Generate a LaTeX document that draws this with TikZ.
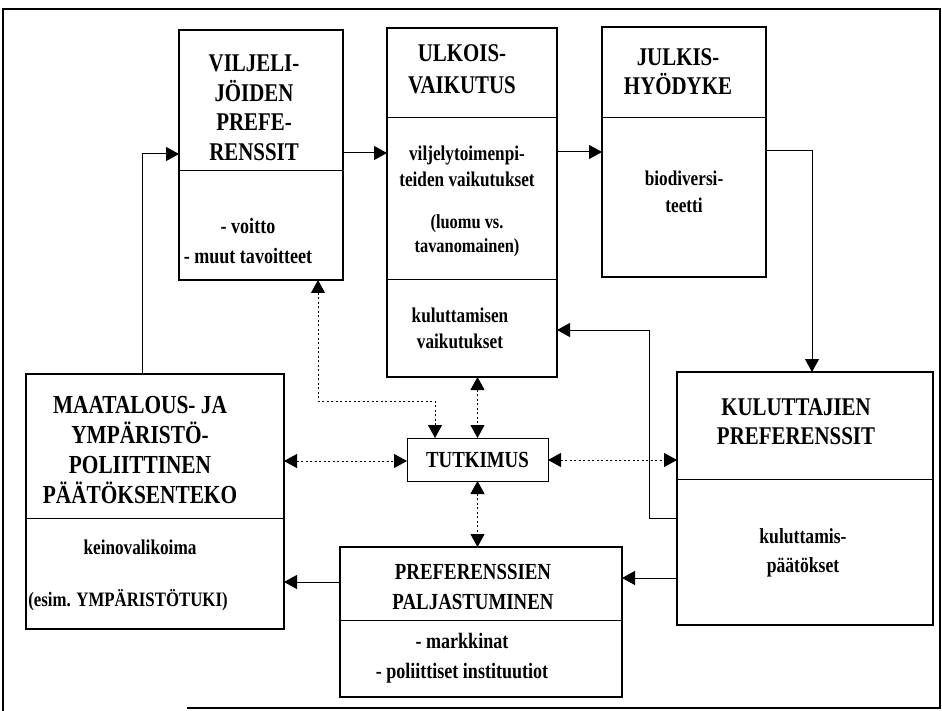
\documentclass[tikz,border=0pt]{standalone}
\usepackage{fontspec}
\setmainfont{Liberation Serif}[FakeStretch=0.82]
\usetikzlibrary{arrows.meta}
\begin{document}
\begin{tikzpicture}[x=1pt,y=-1pt,
 box/.style={draw,line width=1.8pt,rectangle,anchor=north west,inner sep=0,outer sep=0},
 div/.style={line width=0.9pt},
 tip/.tip={Triangle[length=13pt,width=14pt]},
 conn/.style={line width=1pt,-tip},
 dconn/.style={line width=1pt,dash pattern=on 2pt off 2.5pt,tip-tip},
 frame/.style={line width=1.3pt},
 head/.style={font=\fontsize{25.5}{30}\selectfont\bfseries,align=center,inner sep=0},
 body/.style={font=\fontsize{21}{25}\selectfont\bfseries,align=center,inner sep=0},
]
\useasboundingbox (0,0) rectangle (942,711);
% frame
\draw[frame] (3,711) -- (3,9) -- (940,9) -- (940,708) -- (187,708);

% boxes
\node[box, minimum width=164, minimum height=250] (b1) at (179,30) {};
\node[box, minimum width=170, minimum height=349] (b2) at (387,28) {};
\node[box, minimum width=164, minimum height=250] (b3) at (602,27) {};
\node[box, minimum width=258, minimum height=255] (b4) at (26,374) {};
\node[box, minimum width=256, minimum height=253] (b5) at (677,372) {};
\node[box, minimum width=282, minimum height=150] (b6) at (340,547) {};
\node[draw, line width=1pt, rectangle, inner sep=0, outer sep=0, minimum width=141, minimum height=43,
      font=\fontsize{23}{25}\selectfont\bfseries] (tut) at (477.5,459.5) {TUTKIMUS};

% dividers
\draw[div] (b1.west |- 0,170) -- (b1.east |- 0,170);
\draw[div] (b2.west |- 0,117) -- (b2.east |- 0,117);
\draw[div] (b2.west |- 0,279) -- (b2.east |- 0,279);
\draw[div] (b3.west |- 0,117) -- (b3.east |- 0,117);
\draw[div] (b4.west |- 0,518) -- (b4.east |- 0,518);
\draw[div] (b5.west |- 0,479) -- (b5.east |- 0,479);
\draw[div] (b6.west |- 0,620) -- (b6.east |- 0,620);

% texts
\node[head, font=\fontsize{25.5}{29.5}\selectfont\bfseries] (t1h) at (254,108) {VILJELI-\\JÖIDEN\\PREFE-\\RENSSIT};
\node[body, font=\fontsize{22}{30}\selectfont\bfseries] (t1b) at (248,241) {- voitto\\- muut tavoitteet};
\node[head, font=\fontsize{25.5}{32}\selectfont\bfseries] (t2h) at (462,69) {ULKOIS-\\VAIKUTUS};
\node[body, font=\fontsize{21}{26}\selectfont\bfseries] (t2b1) at (467,166) {viljelytoimenpi-\\teiden vaikutukset};
\node[body, font=\fontsize{20}{24}\selectfont\bfseries] (t2b2) at (467,236) {(luomu vs.\\tavanomainen)};
\node[body, font=\fontsize{21}{26}\selectfont\bfseries] (t2b3) at (460,328) {kuluttamisen\\vaikutukset};
\node[head, font=\fontsize{25.5}{29}\selectfont\bfseries] (t3h) at (678,72) {JULKIS-\\HYÖDYKE};
\node[body, font=\fontsize{21}{27}\selectfont\bfseries] (t3b) at (684,192) {biodiversi-\\teetti};
\node[head, font=\fontsize{26}{30}\selectfont\bfseries] (t4h) at (140,450) {MAATALOUS- JA\\YMPÄRISTÖ-\\POLIITTINEN\\PÄÄTÖKSENTEKO};
\node[body] (t4b1) at (140,547) {keinovalikoima};
\node[body, font=\fontsize{20.5}{25}\selectfont\bfseries] (t4b2) at (128,600) {(esim. YMPÄRISTÖTUKI)};
\node[head, font=\fontsize{25.5}{29}\selectfont\bfseries] (t5h) at (796,422) {KULUTTAJIEN\\PREFERENSSIT};
\node[body, font=\fontsize{21.5}{29}\selectfont\bfseries] (t5b) at (803,553) {kuluttamis-\\päätökset};
\node[head, font=\fontsize{23}{30}\selectfont\bfseries] (t6h) at (473,587) {PREFERENSSIEN\\PALJASTUMINEN};
\node[body, font=\fontsize{22}{30}\selectfont\bfseries] (t6b) at (462,658) {- markkinat\\- poliittiset instituutiot};

% solid connectors
\draw[conn] (b4.north -| 142,0) |- (b1.west |- 0,154);
\draw[conn] (b1.east |- 0,153) -- (b2.west |- 0,153);
\draw[conn] (b2.east |- 0,152) -- (b3.west |- 0,152);
\draw[conn] (b3.east |- 0,151) -| (b5.north -| 812,0);
\draw[conn] (b5.west |- 0,518) -- (649,518) |- (b2.east |- 0,330);
\draw[conn] (b5.west |- 0,578) -- (b6.east |- 0,578);
\draw[conn] (b6.west |- 0,582) -- (b4.east |- 0,582);

% dotted connectors
\draw[dconn] (b1.south -| 318,0) |- (435,401) -- (tut.north -| 435,0);
\draw[dconn] (b2.south -| tut.north) -- (tut.north);
\draw[dconn] (b4.east |- 0,461) -- (tut.west |- 0,461);
\draw[dconn] (tut.east |- 0,460) -- (b5.west |- 0,460);
\draw[dconn] (tut.south) -- (b6.north -| tut.south);
\end{tikzpicture}
\end{document}
